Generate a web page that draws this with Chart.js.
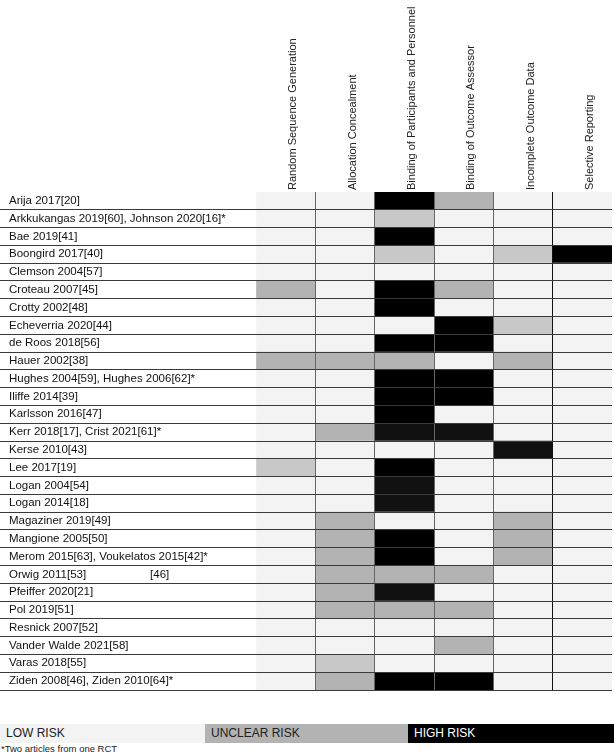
<!DOCTYPE html>
<html>
<head>
<meta charset="utf-8">
<script src="https://cdn.jsdelivr.net/npm/chart.js@4.4.0/dist/chart.umd.min.js"></script>
<style>
  body { margin: 0; background: #fff; }
  #wrap { position: relative; width: 614px; height: 754px; }
  #riskChart { position: absolute; left: 0; top: 0; }
  #legend { position: absolute; left: 0; top: 724px; width: 614px; height: 19px; display: flex;
            font: 12px 'Liberation Sans', Arial, sans-serif; }
  #legend div { line-height: 19px; padding-left: 6px; box-sizing: border-box; }
  #note { position: absolute; left: 1px; top: 743px; color: #222;
          font: 9.5px 'Liberation Sans', Arial, sans-serif; }
</style>
</head>
<body>
<div id="wrap">
  <canvas id="riskChart" width="614" height="700"></canvas>
  <div id="legend"></div>
  <div id="note">*Two articles from one RCT</div>
</div>
<script>
var studies = [
  "Arija 2017[20]", "Arkkukangas 2019[60], Johnson 2020[16]*", "Bae 2019[41]", "Boongird 2017[40]",
  "Clemson 2004[57]", "Croteau 2007[45]", "Crotty 2002[48]", "Echeverria 2020[44]", "de Roos 2018[56]",
  "Hauer 2002[38]", "Hughes 2004[59], Hughes 2006[62]*", "Iliffe 2014[39]", "Karlsson 2016[47]",
  "Kerr 2018[17], Crist 2021[61]*", "Kerse 2010[43]", "Lee 2017[19]", "Logan 2004[54]", "Logan 2014[18]",
  "Magaziner 2019[49]", "Mangione 2005[50]", "Merom 2015[63], Voukelatos 2015[42]*",
  "Orwig 2011[53]                    [46]", "Pfeiffer 2020[21]", "Pol 2019[51]", "Resnick 2007[52]",
  "Vander Walde 2021[58]", "Varas 2018[55]", "Ziden 2008[46], Ziden 2010[64]*"
];
var domains = [
  "Random Sequence Generation", "Allocation Concealment", "Binding of Participants and Personnel",
  "Binding of Outcome Assessor", "Incomplete Outcome Data", "Selective Reporting"
];

// L low, U unclear, H high; u / h = the lighter grey and softer black some cells have in the figure
var randomSequence = ["L","L","L","L","L","U","L","L","L","U","L","L","L","L","L","u","L","L","L","L","L","L","L","L","L","L","L","L"];
var allocation     = ["L","L","L","L","L","L","L","L","L","U","L","L","L","U","L","L","L","L","U","U","U","U","U","U","L","L","u","U"];
var blindingPart   = ["H","u","H","u","L","H","H","L","H","U","H","H","H","h","L","H","h","h","L","H","H","U","h","U","L","L","L","H"];
var blindingOutc   = ["U","L","L","L","L","U","L","H","H","L","H","H","L","h","L","L","L","L","L","L","L","U","L","U","L","U","L","H"];
var incomplete     = ["L","L","L","u","L","L","L","u","L","U","L","L","L","L","h","L","L","L","U","U","U","L","L","L","L","L","L","L"];
var selective      = ["L","L","L","H","L","L","L","L","L","L","L","L","L","L","L","L","L","L","L","L","L","L","L","L","L","L","L","L"];
var risks = [randomSequence, allocation, blindingPart, blindingOutc, incomplete, selective];

var legendLabels = ["LOW RISK", "UNCLEAR RISK", "HIGH RISK"];
var legendCodes = ["L", "U", "H"];

var riskColors = { L: "#f3f3f3", u: "#c8c8c8", U: "#b3b3b3", h: "#111111", H: "#000000" };
var sans = "'Liberation Sans', Arial, sans-serif";

var datasets = domains.map(function (d, i) {
  return {
    label: d,
    data: studies.map(function () { return 1; }),
    backgroundColor: function (ctx) { return riskColors[risks[i][ctx.dataIndex]]; },
    borderWidth: 0,
    categoryPercentage: 1,
    barPercentage: 1
  };
});

var ctx = document.getElementById('riskChart').getContext('2d');
var riskChart = new Chart(ctx, {
  type: 'bar',
  data: { labels: studies, datasets: datasets },
  options: {
    indexAxis: 'y',
    responsive: false,
    animation: false,
    layout: { padding: { left: 9, right: 2, top: 0, bottom: 10 } },
    plugins: { legend: { display: false }, tooltip: { enabled: false } },
    scales: {
      x: {
        type: 'linear', stacked: true, min: 0, max: 6,
        ticks: { display: false, stepSize: 1 },
        border: { display: false },
        grid: {
          z: 1, drawTicks: false,
          color: function (c) {
            if (c.index === 0 || c.index === 6) return 'rgba(0,0,0,0)';
            return c.index === 5 ? '#111' : '#666';
          }
        }
      },
      header: {
        type: 'category', position: 'top', labels: domains, offset: true,
        grid: { display: false }, border: { display: false },
        ticks: { autoSkip: false, minRotation: 90, maxRotation: 90, padding: -6, labelOffset: 21,
                 color: '#222', font: { size: 11, family: sans } },
        afterFit: function (s) { s.height = 192; }
      },
      y: {
        stacked: true, offset: true,
        border: { display: false },
        grid: {
          z: 1, offset: true, tickLength: 256,
          color: function (c) { return c.index === 0 ? 'rgba(0,0,0,0)' : '#3a3a3a'; }
        },
        ticks: { autoSkip: false, crossAlign: 'far', padding: 0, color: '#111', font: { size: 11.5, family: sans } },
        afterFit: function (s) { s.width = 247; }
      }
    }
  }
});

var legend = document.getElementById('legend');
var legendWidths = [205, 203, 206];
legendLabels.forEach(function (t, i) {
  var el = document.createElement('div');
  el.textContent = t;
  el.style.width = legendWidths[i] + 'px';
  el.style.background = riskColors[legendCodes[i]];
  el.style.color = legendCodes[i] === 'H' ? '#fff' : '#222';
  legend.appendChild(el);
});
</script>
</body>
</html>
